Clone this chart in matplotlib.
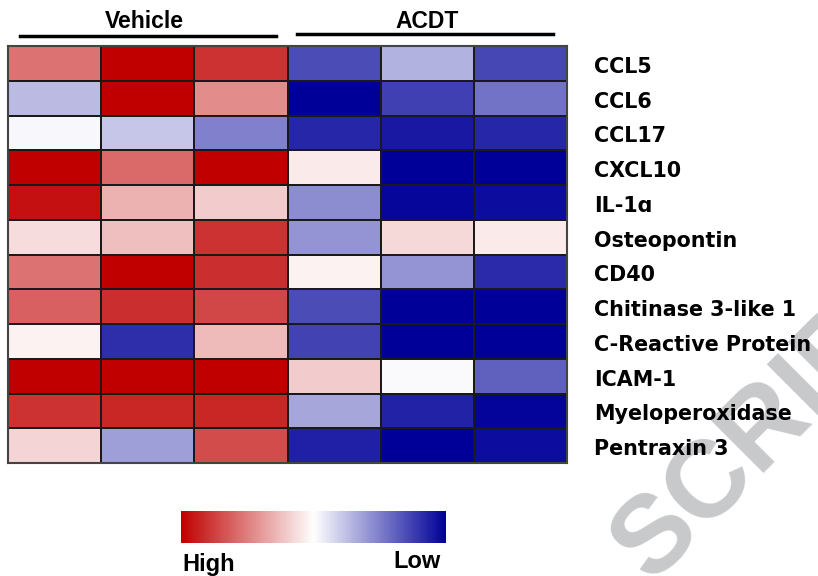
import numpy as np
import matplotlib.pyplot as plt
from matplotlib.colors import LinearSegmentedColormap

markers = ["CCL5", "CCL6", "CCL17", "CXCL10", "IL-1\u0251", "Osteopontin", "CD40",
           "Chitinase 3-like 1", "C-Reactive Protein", "ICAM-1",
           "Myeloperoxidase", "Pentraxin 3"]
groups = ["Vehicle", "ACDT"]

# relative levels, +1 = high (red), -1 = low (blue); 3 vehicle + 3 ACDT samples
vehicle = [
    [0.55, 1.00, 0.80],
    [-0.27, 1.00, 0.45],
    [-0.03, -0.22, -0.50],
    [1.00, 0.58, 1.00],
    [0.93, 0.30, 0.20],
    [0.14, 0.25, 0.80],
    [0.55, 1.00, 0.82],
    [0.62, 0.82, 0.72],
    [0.05, -0.82, 0.27],
    [1.00, 1.00, 1.00],
    [0.80, 0.85, 0.85],
    [0.17, -0.38, 0.70],
]
acdt = [
    [-0.70, -0.30, -0.72],
    [-1.00, -0.75, -0.55],
    [-0.85, -0.90, -0.85],
    [0.08, -1.00, -1.00],
    [-0.45, -0.97, -0.95],
    [-0.42, 0.15, 0.08],
    [0.05, -0.42, -0.83],
    [-0.70, -1.00, -1.00],
    [-0.74, -1.00, -1.00],
    [0.20, -0.02, -0.62],
    [-0.35, -0.86, -0.98],
    [-0.87, -1.00, -0.95],
]

data = np.hstack([np.array(vehicle), np.array(acdt)])
cmap = LinearSegmentedColormap.from_list("hl", ["#000099", "#ffffff", "#c00000"])

fig = plt.figure(figsize=(8.18, 5.76), dpi=100)

# watermark, under everything else
fig.text(0.772, 0.021, "SCRIPT", ha="left", va="center", fontsize=79, color="#c8c9cb",
         family="Liberation Sans", fontweight="bold", rotation=45,
         rotation_mode="anchor", zorder=0)

ax = fig.add_axes([8 / 818, 1 - 463 / 576, 559 / 818, 417 / 576])
ax.set_zorder(2)
ax.pcolormesh(data, cmap=cmap, vmin=-1, vmax=1, edgecolors="#1a1a1a", linewidth=1.3)
ax.set_xlim(0, 6)
ax.set_ylim(12, 0)
ax.set_xticks([])
ax.set_yticks([])
for s in ax.spines.values():
    s.set_color("#444444")
    s.set_linewidth(1.5)

for i, name in enumerate(markers):
    ax.text(6.29, i + 0.6, name, ha="left", va="center", fontsize=14.9,
            fontweight="bold", family="DejaVu Sans", clip_on=False)

hdr = dict(fontsize=16.5, fontweight="bold", family="Liberation Sans", ha="center", va="baseline")
ax.text(1.465, -0.52, groups[0], **hdr)
ax.text(4.5, -0.52, groups[1], **hdr)
ax.plot([0.13, 2.88], [-0.29, -0.29], color="black", lw=2.5, clip_on=False)
ax.plot([3.1, 5.85], [-0.345, -0.345], color="black", lw=2.5, clip_on=False)

# colour key
cax = fig.add_axes([181 / 818, 1 - 543 / 576, 265 / 818, 32 / 576])
cax.set_zorder(2)
cax.imshow(np.linspace(1, -1, 256)[None, :], cmap=cmap, vmin=-1, vmax=1, aspect="auto")
cax.axis("off")
fig.text(182 / 818, 1 - 571 / 576, "High", ha="left", va="baseline", fontsize=17,
         fontweight="bold", family="Liberation Sans")
fig.text(441 / 818, 1 - 568 / 576, "Low", ha="right", va="baseline", fontsize=17,
         fontweight="bold", family="Liberation Sans")

fig.savefig("out.png", dpi=100)
